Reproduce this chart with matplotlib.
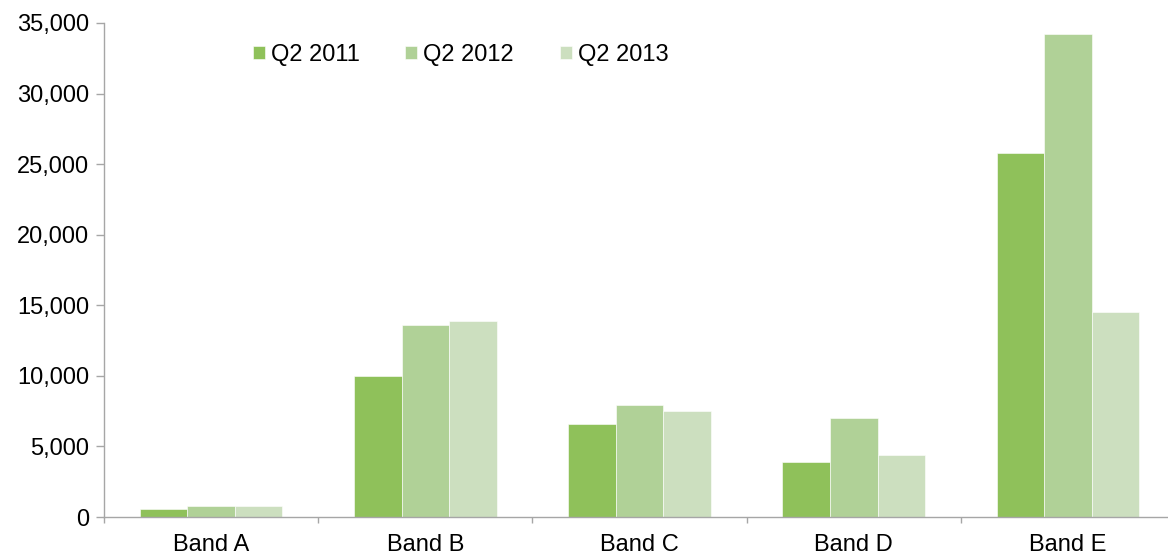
import matplotlib.pyplot as plt
import numpy as np
from matplotlib.ticker import FuncFormatter

plt.rcParams['font.family'] = ['Liberation Sans', 'DejaVu Sans']

bands = ['Band A', 'Band B', 'Band C', 'Band D', 'Band E']
series = ['Q2 2011', 'Q2 2012', 'Q2 2013']
q2_2011 = [570, 10000, 6600, 3900, 25800]
q2_2012 = [780, 13600, 7950, 7000, 34200]
q2_2013 = [780, 13900, 7500, 4400, 14500]
colors = ['#8FC15A', '#B0D197', '#CCDFBF']

fig = plt.figure(figsize=(11.68, 5.56), dpi=100)
ax = fig.add_axes([104 / 1168, 39 / 556, 1064 / 1168, 494 / 556])

x = np.arange(len(bands))
w = 0.222
for i, (vals, name, c) in enumerate(zip([q2_2011, q2_2012, q2_2013], series, colors)):
    ax.bar(x + (i - 1) * w, vals, width=w, color=c, edgecolor='white',
           linewidth=0.4, label=name, zorder=2)

ax.set_xlim(-0.5, 4.467)
ax.set_ylim(0, 35000)
ax.set_yticks(np.arange(0, 35001, 5000))
ax.yaxis.set_major_formatter(FuncFormatter(lambda v, _: f'{int(v):,}'))

# category labels at centres, tick marks at category boundaries
ax.set_xticks(x)
ax.set_xticklabels(bands)
ax.set_xticks(np.arange(-0.5, 4.5, 1), minor=True)
ax.tick_params(axis='x', which='major', length=0, labelsize=17, pad=12)
ax.tick_params(axis='x', which='minor', length=4.5, color='#A6A6A6', width=1)
ax.tick_params(axis='y', length=6, color='#A6A6A6', width=1, labelsize=17, pad=4.5)

for s in ['top', 'right']:
    ax.spines[s].set_visible(False)
for s in ['left', 'bottom']:
    ax.spines[s].set_color('#A6A6A6')
    ax.spines[s].set_linewidth(1)

ax.legend(loc='center left', bbox_to_anchor=(0.131, 0.935), ncol=3, frameon=False,
          fontsize=17, handlelength=0.5, handleheight=0.5, handletextpad=0.25,
          columnspacing=1.95, borderaxespad=0)

fig.savefig('out.png', dpi=100)
